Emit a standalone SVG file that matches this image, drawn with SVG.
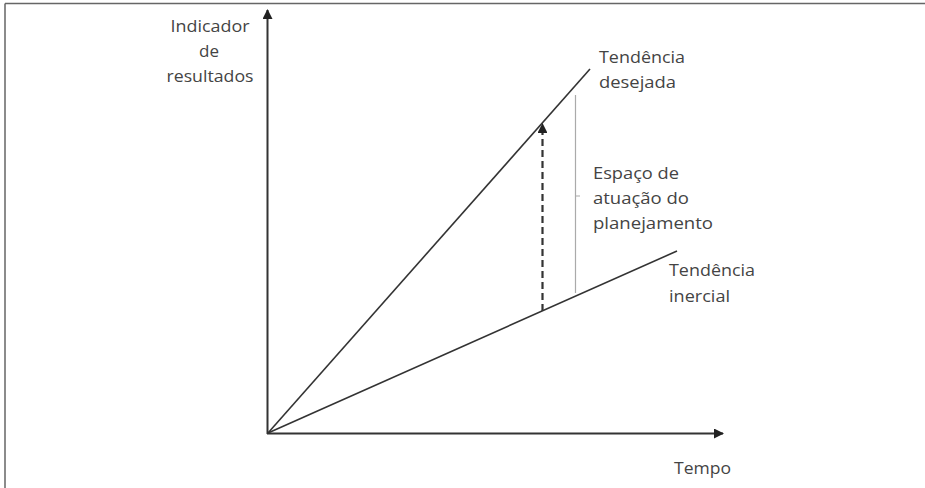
<svg xmlns="http://www.w3.org/2000/svg" width="925" height="488" viewBox="0 0 925 488">
<style>
.lbl{font-family:"Open Sans","Liberation Sans",sans-serif;font-size:17px;fill:#444}
.axis{stroke:#333;stroke-width:2;fill:none}
.trend{stroke:#333;stroke-width:1.6;fill:none}
</style>
<defs>
<marker id="ah" viewBox="0 0 10 10" refX="9" refY="5" markerWidth="5" markerHeight="5" markerUnits="strokeWidth" orient="auto">
<path d="M0,0 L10,5 L0,10 Z" fill="#222"/>
</marker>
<marker id="ahd" viewBox="0 0 10 10" refX="9" refY="5" markerWidth="4.5" markerHeight="4.5" markerUnits="strokeWidth" orient="auto">
<path d="M0,0 L10,5 L0,10 Z" fill="#222"/>
</marker>
</defs>
<rect width="925" height="488" fill="#fff"/>
<g id="frame">
<path d="M5,3.5 H925 M5,3.5 V488" stroke="#666" stroke-width="1.5" fill="none"/>
</g>
<g id="connectors">
<line id="y-axis" class="axis" x1="267.5" y1="434" x2="267.5" y2="10" marker-end="url(#ah)"/>
<line id="x-axis" class="axis" x1="267" y1="433.5" x2="723" y2="433.5" marker-end="url(#ah)"/>
<line id="trend-desired" class="trend" x1="268" y1="433" x2="590" y2="69"/>
<line id="trend-inertial" class="trend" x1="268" y1="433" x2="677" y2="251"/>
<line id="gap-arrow" x1="542.5" y1="311" x2="542.5" y2="124" stroke="#333" stroke-width="2.2" stroke-dasharray="7,4" marker-end="url(#ahd)"/>
<path id="brace" d="M575.5,95 V293 M575.5,196 H580" stroke="#aaa" stroke-width="1.2" fill="none"/>
</g>
<g id="y-label">
<text class="lbl" x="210" y="32" text-anchor="middle" textLength="79" lengthAdjust="spacingAndGlyphs">Indicador</text>
<text class="lbl" x="209" y="57" text-anchor="middle">de</text>
<text class="lbl" x="210" y="82" text-anchor="middle" textLength="87" lengthAdjust="spacingAndGlyphs">resultados</text>
</g>
<g id="desired-label">
<text class="lbl" x="599" y="63" textLength="86" lengthAdjust="spacingAndGlyphs">Tendência</text>
<text class="lbl" x="599" y="88" textLength="77" lengthAdjust="spacingAndGlyphs">desejada</text>
</g>
<g id="space-label">
<text class="lbl" x="593" y="179" textLength="86" lengthAdjust="spacingAndGlyphs">Espaço de</text>
<text class="lbl" x="593" y="204" textLength="96" lengthAdjust="spacingAndGlyphs">atuação do</text>
<text class="lbl" x="593" y="229" textLength="120" lengthAdjust="spacingAndGlyphs">planejamento</text>
</g>
<g id="inertial-label">
<text class="lbl" x="669" y="276" textLength="86" lengthAdjust="spacingAndGlyphs">Tendência</text>
<text class="lbl" x="669" y="302" textLength="61" lengthAdjust="spacingAndGlyphs">inercial</text>
</g>
<g id="x-label">
<text class="lbl" x="674" y="474" textLength="57" lengthAdjust="spacingAndGlyphs">Tempo</text>
</g>
</svg>
